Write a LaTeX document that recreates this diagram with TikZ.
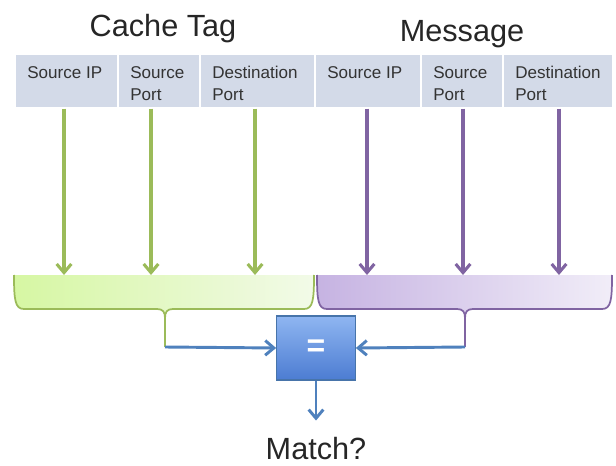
\documentclass[tikz,border=0pt]{standalone}
\usepackage{fontspec}
\setmainfont{Liberation Sans}
\usepackage{tikz}
\usetikzlibrary{arrows.meta, positioning, calc}
\definecolor{hdrfill}{RGB}{211,218,232}
\definecolor{gline}{RGB}{155,187,89}
\definecolor{pline}{RGB}{128,100,162}
\definecolor{bline}{RGB}{79,129,189}
\definecolor{gfillL}{RGB}{214,247,163}
\definecolor{gfillR}{RGB}{242,250,232}
\definecolor{pfillL}{RGB}{198,179,226}
\definecolor{pfillR}{RGB}{241,237,248}
\definecolor{boxtop}{RGB}{143,182,241}
\definecolor{boxbot}{RGB}{76,124,210}

\begin{document}
\begin{tikzpicture}[x=0.75pt, y=-0.75pt,
  cell/.style={fill=hdrfill, draw=white, line width=1.2pt, anchor=north west, inner sep=0pt, minimum height=40.5pt},
  celltext/.style={anchor=north west, align=left, inner sep=0pt, font=\fontsize{12.8}{16.5}\selectfont, text=black!80},
  feed/.style={line width=2.3pt, -{Straight Barb[length=6.5pt,width=11pt,line width=2.3pt]}},
  merge/.style={line width=2.2pt, bline, -{Straight Barb[length=6.5pt,width=11pt,line width=2.2pt]}},
  title/.style={anchor=base, font=\fontsize{23}{27}\selectfont, text=black!85}]
\useasboundingbox (0,0) rectangle (616,466);

\node[title] (tagtitle) at (163,37) {Cache Tag};
\node[title] (msgtitle) at (462,42) {Message};

% header fields
\foreach \n/\x/\w/\t in {1/14/103/Source IP, 2/117/82/Source\\Port, 3/199/115/Destination\\Port,
                         4/314/106/Source IP, 5/420/82/Source\\Port, 6/502/110/Destination\\Port}{
  \pgfmathsetmacro{\cw}{0.75*\w}
  \node[cell, minimum width=\cw pt] (c\n) at (\x,53) {};
  \node[celltext] (t\n) at (\x+13,66) {\t};
}

% brackets
\foreach \l/\r/\m/\cl/\cr/\cb/\nm in {14/314/165/gfillL/gfillR/gline/tag, 317/612/465/pfillL/pfillR/pline/msg}{
  \fill[left color=\cl, right color=\cr] (\l,275) .. controls (\l,300) and (\l+1,309) .. (\l+10,309)
    -- (\m-8,309) .. controls (\m-2,309) and (\m,312) .. (\m,318)
    .. controls (\m,312) and (\m+2,309) .. (\m+8,309) -- (\r-10,309)
    .. controls (\r-1,309) and (\r,300) .. (\r,275) -- cycle;
  \draw[\cb, line width=1.3pt] (\l,275) .. controls (\l,300) and (\l+1,309) .. (\l+10,309)
    -- (\m-8,309) .. controls (\m-2,309) and (\m,312) .. (\m,318)
    .. controls (\m,312) and (\m+2,309) .. (\m+8,309) -- (\r-10,309)
    .. controls (\r-1,309) and (\r,300) .. (\r,275);
  \coordinate (\nm) at (\m,347);
  \draw[\cb, line width=1.5pt] (\m,316) -- (\nm);
}

% field arrows
\foreach \x/\c/\col in {64/c1/gline, 151/c2/gline, 255/c3/gline, 367/c4/pline, 463/c5/pline, 559/c6/pline}{
  \coordinate (in\x) at (\x,275);
  \draw[feed, \col] (\c.south -| in\x) -- (in\x);
}

\node[draw=bline!90!black, line width=0.8pt, top color=boxtop, bottom color=boxbot, minimum width=59pt, minimum height=48pt,
      text=white, font=\fontsize{24}{24}\selectfont\bfseries] (eq) at (316,348) {=};
\node[title, inner ysep=12pt] (match) at (316,459) {Match?};

\draw[merge] (tag) -- (eq.west);
\draw[merge] (msg) -- (eq.east);
\draw[merge] (eq.south) -- (match.north);
\end{tikzpicture}
\end{document}
